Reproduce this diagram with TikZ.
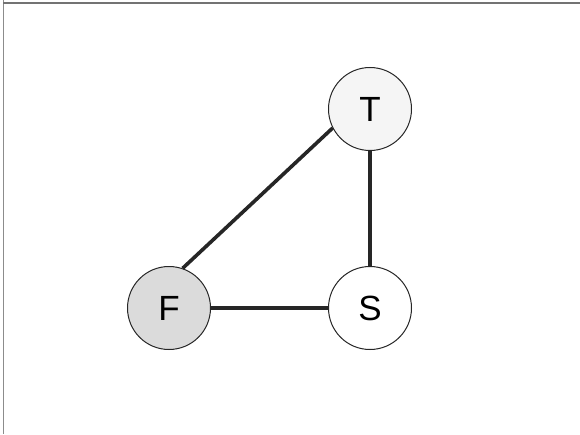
\documentclass[tikz,border=0pt]{standalone}
\usepackage{fontspec}
\setmainfont{Liberation Sans}
\begin{document}
\begin{tikzpicture}[x=1pt,y=1pt,
  vertex/.style={circle,draw=black!85,line width=1pt,minimum size=83pt,inner sep=0pt,font=\fontsize{35}{38}\selectfont},
  edge/.style={line width=3.6pt,draw=black!85}]
\useasboundingbox (0,0) rectangle (580,434);
\draw[black!45,line width=1pt] (3,434) -- (3,0);
\draw[black!55,line width=1.2pt] (3,431) -- (580,431);
\node[vertex,fill=black!4] (T) at (370,325) {T};
\node[vertex,fill=black!14] (F) at (169,126) {F};
\node[vertex,fill=white] (S) at (370,126) {S};
\draw[edge] (F.71) -- (T.207);
\draw[edge] (T) -- (S);
\draw[edge] (F) -- (S);
\end{tikzpicture}
\end{document}
